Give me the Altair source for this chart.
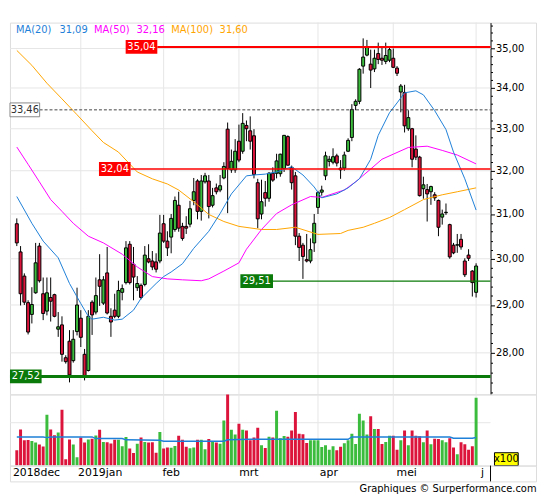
import altair as alt
import pandas as pd

# ---------------- data ----------------
opens = [30.78,30.15,29.62,29.05,28.80,29.26,30.28,29.24,28.87,29.16,
         29.22,28.49,28.58,27.90,28.24,27.84,28.44,28.72,27.97,27.64,
         29.06,28.85,29.54,29.04,29.69,28.76,28.89,28.76,29.27,29.48,
         30.32,29.88,29.37,29.42,29.44,30.00,29.95,29.93,29.95,30.78,
         30.39,30.48,30.65,31.20,30.72,30.72,30.77,31.31,31.76,31.06,
         31.74,31.76,31.20,31.60,31.55,31.83,32.99,32.02,32.02,32.70,
         32.46,33.08,32.95,32.83,31.72,31.00,31.49,31.36,31.94,31.94,
         31.93,32.05,32.81,32.08,31.88,30.50,30.30,29.98,29.95,30.35,
         31.15,31.50,31.88,32.22,32.20,32.35,32.06,32.06,32.46,32.79,
         33.57,33.67,34.55,34.83,34.60,34.48,34.87,34.75,34.67,34.70,
         34.75,34.50,33.90,33.89,33.00,33.00,32.51,32.32,31.58,31.56,
         31.51,31.44,31.31,30.93,31.03,30.76,30.30,30.30,30.43,29.95,
         30.08,29.73,29.27]
highs = [30.90,30.28,29.68,29.10,29.38,30.35,30.35,29.59,29.59,29.59,
         29.24,28.85,28.76,27.95,28.47,28.47,29.37,28.89,28.08,28.89,
         29.10,29.59,30.10,29.62,30.26,28.93,29.24,29.52,29.44,30.39,
         30.39,30.26,29.62,29.46,30.28,30.32,30.17,30.12,30.98,30.98,
         30.61,31.00,31.40,31.51,30.80,30.95,31.30,31.83,31.80,31.90,
         31.95,31.90,31.60,31.70,31.90,32.20,33.15,32.50,32.75,33.10,
         33.38,33.20,33.30,32.99,31.81,31.79,31.76,31.97,32.08,32.40,
         32.40,32.85,32.84,32.12,31.97,30.57,30.35,30.55,30.45,31.00,
         31.53,31.65,32.45,32.35,32.53,32.40,32.25,32.45,32.77,33.60,
         33.72,34.50,35.26,35.22,34.97,34.97,35.15,35.05,35.15,35.05,
         35.00,34.55,34.10,34.08,33.45,33.02,32.84,32.35,31.86,31.69,
         31.65,31.50,31.33,31.10,31.24,30.78,30.35,30.55,30.55,30.01,
         30.21,29.75,29.90]
lows = [30.28,28.99,29.00,28.38,28.61,29.24,29.48,28.68,28.78,28.65,
        28.74,28.33,27.82,27.78,27.40,27.80,28.36,28.12,27.44,27.62,
        28.37,28.80,28.98,29.00,28.80,28.33,28.72,28.72,29.10,29.44,
        29.44,29.10,29.30,29.12,29.40,29.90,29.75,29.70,29.90,30.35,
        30.06,30.12,30.60,30.60,30.40,30.55,30.70,31.20,30.88,30.85,
        31.70,30.90,31.15,31.45,31.50,31.80,31.02,31.95,31.95,32.20,
        32.40,32.70,32.50,31.82,30.68,30.88,31.17,31.28,31.74,31.82,
        31.86,31.97,32.12,31.56,30.30,29.95,29.56,29.92,29.90,30.15,
        31.00,31.42,31.78,32.10,32.15,32.10,31.81,32.00,32.44,32.70,
        33.45,33.60,34.36,34.80,34.00,34.40,34.60,34.58,34.60,34.65,
        34.50,34.30,33.40,32.91,32.95,32.08,32.25,31.40,31.35,30.83,
        31.21,31.30,30.50,30.76,30.98,30.00,30.10,30.13,30.20,29.60,
        29.95,29.18,29.16]
closes = [30.35,29.24,29.06,28.43,29.01,29.91,29.52,28.82,29.26,29.08,
          28.76,28.54,27.97,27.82,27.55,28.28,29.00,28.32,27.52,28.76,
          28.79,29.20,29.40,29.54,28.83,28.64,28.76,29.31,29.35,30.24,
          29.48,29.60,29.46,29.16,30.08,29.93,29.82,29.77,30.57,30.39,
          30.24,30.90,31.31,30.68,30.45,30.68,31.12,31.51,31.06,31.76,
          31.88,31.17,31.42,31.51,31.65,32.10,32.05,32.22,32.46,32.25,
          33.13,33.00,32.70,31.91,30.89,31.28,31.36,31.94,31.78,32.23,
          32.39,32.84,32.13,31.72,30.50,30.25,30.05,29.95,30.20,30.79,
          31.49,31.55,32.35,32.27,32.33,32.18,32.02,32.37,32.72,33.47,
          33.67,34.47,34.78,35.03,34.45,34.75,34.72,34.70,34.82,34.97,
          34.52,34.37,34.05,33.07,33.27,32.27,32.32,31.42,31.67,31.46,
          31.63,31.37,30.70,31.00,31.04,30.04,30.13,30.31,30.26,29.65,
          30.01,29.48,29.84]
volumes = [1780,4220,2940,2990,2880,2700,2460,2230,5930,4220,
           3530,3850,6500,730,3040,2460,960,3270,2690,3040,
           3140,3520,4190,2760,2720,2570,3020,3020,2250,3340,
           1980,1470,2560,3260,2760,2700,2720,1510,3920,1980,
           2100,2090,2290,3490,3020,2210,2010,2100,3020,3000,
           1900,3100,2800,2700,2550,5270,8370,4190,3610,4890,
           4190,4100,2940,3270,4420,2360,2050,3370,3270,6400,
           3200,3440,3370,4100,6240,3720,3650,2640,2940,2940,
           2940,2170,2360,1860,2250,1790,2200,2590,2940,3720,
           2520,6050,5270,3610,5740,4260,4260,2520,2750,3490,
           3490,1860,2940,4100,2360,4100,3490,3420,2720,4100,
           2500,3140,3100,2940,2720,3200,2100,1320,2720,2480,
           1860,2250,7910]

ma20_idx = [0,4,7,11,14,17,19,20,23,26,28,31,33,37,39,41,44,47,51,54,57,61,63,66,69,73,76,79,81,85,
            88,91,94,96,99,101,103,106,108,111,114,116,119,122]
ma20_val = [31.40,30.79,30.39,30.02,29.46,29.03,28.76,28.70,28.74,28.68,28.70,28.89,29.14,29.46,29.61,
            29.71,29.89,30.23,30.61,31.01,31.46,31.88,31.90,31.92,31.97,32.09,31.90,31.62,31.37,31.46,
            31.60,31.81,32.27,32.84,33.39,33.63,33.88,33.93,33.83,33.44,32.98,32.44,31.81,31.09]
ma50_idx = [0,3,6,9,12,15,19,23,28,32,36,40,44,49,51,55,59,61,65,69,73,78,81,87,90,94,97,100,104,109,
            113,117,122]
ma50_val = [32.56,32.15,31.74,31.33,31.06,30.79,30.50,30.35,30.10,29.82,29.61,29.56,29.54,29.52,29.56,
            29.73,29.91,30.21,30.65,31.01,31.21,31.40,31.38,31.55,31.74,32.04,32.27,32.39,32.55,32.58,
            32.48,32.37,32.16]
ma100_idx = [0,4,8,12,16,20,23,27,32,36,40,43,47,51,55,59,65,69,74,80,86,88,92,95,99,103,108,113,117,122]
ma100_val = [34.95,34.57,34.12,33.73,33.34,32.95,32.67,32.44,31.97,31.81,31.69,31.55,31.28,30.99,30.83,
             30.72,30.65,30.65,30.70,30.54,30.56,30.63,30.70,30.79,30.92,31.10,31.33,31.44,31.51,31.60]
vma_idx = [0,7,8,9,20,21,28,29,38,39,55,56,62,88,89,115,116,121,122]
vma_val = [3340,3340,3260,3340,3340,3150,3150,3000,2950,2850,2850,3000,3060,3060,3340,3340,3200,3200,3280]

month_idx = [0, 17, 39, 59, 80, 100, 122]
month_labels = ["2018dec", "2019jan", "feb", "mrt", "apr", "mei", "j"]
grid_idx = [17, 39, 59, 80, 100, 122]
price_ticks = [28, 29, 30, 31, 32, 33, 34, 35]
minor_ticks = [round(27.2 + 0.2 * k, 1) for k in range(43) if abs((27.2 + 0.2 * k) - round(27.2 + 0.2 * k)) > 0.05]
vol_ticks = [2500, 5000, 7500]

# ---------------- layout / style ----------------
GREEN = "#3cbc3c"
RED = "#dc143c"
FONT = "DejaVu Sans"
W, PH, VH, LH = 532, 376, 72, 16
PLOT_R = 486
GRID = "#e6e6e6"

n = len(closes)
df = pd.DataFrame({"i": list(range(n)), "o": opens, "h": highs, "l": lows, "c": closes, "v": volumes})
df["dir"] = ["up" if c >= o else "down" for o, c in zip(opens, closes)]
one = pd.DataFrame({"k": [0]})

xsc = alt.Scale(domain=[-0.5, 136.6], nice=False, zero=False)
X = alt.X("i:Q", scale=xsc, axis=None)
ysc = alt.Scale(type="log", domain=[27.16, 35.67], nice=False)
col = alt.Color("dir:N", scale=alt.Scale(domain=["up", "down"], range=[GREEN, RED]), legend=None)

major_axis = alt.Axis(orient="right", offset=-46, values=price_ticks,
                      labelExpr="replace(format(datum.value, '.2f'), '.', ',')",
                      tickSize=4, tickColor="#000", domainColor="#000", labelColor="#000",
                      labelFontSize=10, labelFont=FONT, labelPadding=1, grid=False, title=None)
minor_axis = alt.Axis(orient="right", offset=-46, values=minor_ticks, labels=False,
                      tickSize=2, tickColor="#000", domain=False, grid=False, title=None)

hgrid = alt.Chart(pd.DataFrame({"p": price_ticks})).mark_rule(color=GRID).encode(
    y=alt.Y("p:Q", scale=ysc, axis=None), x=alt.value(0), x2=alt.value(PLOT_R))
vgrid = alt.Chart(pd.DataFrame({"i": grid_idx})).mark_rule(color=GRID).encode(
    x=X, y=alt.value(0), y2=alt.value(PH))

wick = alt.Chart(df).mark_rule(color="#000", strokeWidth=1).encode(
    x=X, y=alt.Y("l:Q", scale=ysc, axis=minor_axis), y2="h:Q")
body = alt.Chart(df).mark_bar(size=3, stroke="#000", strokeWidth=1).encode(
    x=X, y=alt.Y("o:Q", scale=ysc, axis=major_axis), y2="c:Q", color=col)


def ma_line(idx, vals, color):
    d = pd.DataFrame({"i": idx, "m": vals})
    return alt.Chart(d).mark_line(color=color, strokeWidth=1).encode(
        x=X, y=alt.Y("m:Q", scale=ysc, axis=None))


ma20 = ma_line(ma20_idx, ma20_val, "#1e80d8")
ma50 = ma_line(ma50_idx, ma50_val, "#ff00ff")
ma100 = ma_line(ma100_idx, ma100_val, "#ffa500")


def level(val, txt, color, lw, bx0, bx1, fill, fg, line_x0, dash=None, border=None):
    d = pd.DataFrame({"p": [val]})
    b = alt.Chart(d)
    y = alt.Y("p:Q", scale=ysc, axis=None)
    kw = dict(color=color, strokeWidth=lw)
    if dash:
        kw["strokeDash"] = dash
    line = b.mark_rule(**kw).encode(y=y, x=alt.value(line_x0), x2=alt.value(PLOT_R))
    rkw = dict(fill=fill, yOffset=-7, y2Offset=7)
    if border:
        rkw["stroke"] = border
        rkw["strokeWidth"] = 1
    box = b.mark_rect(**rkw).encode(y=y, y2=alt.Y2("p:Q"), x=alt.value(bx0), x2=alt.value(bx1))
    t = b.mark_text(color=fg, fontSize=10, font=FONT, align="center", baseline="middle").encode(
        y=y, x=alt.value((bx0 + bx1) / 2), text=alt.value(txt))
    return [line, box, t]


levels = []
levels += level(35.04, "35,04", "#ff0000", 2, 117, 149, "#ff0000", "#ffffff", 149)
levels += level(33.46, "33,46", "#444444", 1, 0, 30, "#ffffff", "#333333", 30, dash=[3, 2], border="#888888")
levels += level(32.04, "32,04", "#ff0000", 1.5, 90, 122, "#ff0000", "#ffffff", 122)
levels += level(29.51, "29,51", "#0a7a0a", 1.2, 233, 266, "#0a7a0a", "#ffffff", 266)
levels += level(27.52, "27,52", "#0a7a0a", 3, 0, 32, "#0a7a0a", "#ffffff", 0)

legend_items = [("MA(20)", 6, "#1e80d8"), ("31,09", 50, "#1e80d8"),
                ("MA(50)", 85, "#ff00ff"), ("32,16", 128, "#ff00ff"),
                ("MA(100)", 163, "#ffa500"), ("31,60", 212, "#ffa500")]
legend = [alt.Chart(one).mark_text(color=c, fontSize=10, font=FONT, align="left", baseline="middle").encode(
    x=alt.value(x), y=alt.value(8), text=alt.value(t)) for t, x, c in legend_items]

price = alt.layer(hgrid, vgrid, wick, body, ma100, ma50, ma20, *levels, *legend).resolve_axis(
    y="independent").properties(width=W, height=PH)

# ---------------- volume panel ----------------
vsc = alt.Scale(domain=[0, 8300], nice=False, zero=True)
vaxis = alt.Axis(orient="right", offset=-46, values=vol_ticks,
                 labelExpr="datum.value == 5000 ? '5000' : ''",
                 tickSize=4, tickColor="#000", domainColor="#000", labelColor="#000",
                 labelFontSize=10, labelFont=FONT, labelPadding=1, grid=False, title=None)
vgrid2 = alt.Chart(pd.DataFrame({"i": grid_idx})).mark_rule(color=GRID).encode(
    x=X, y=alt.value(0), y2=alt.value(VH))
hgrid2 = alt.Chart(pd.DataFrame({"v": [5000]})).mark_rule(color=GRID).encode(
    y=alt.Y("v:Q", scale=vsc, axis=None), x=alt.value(0), x2=alt.value(PLOT_R))
vbars = alt.Chart(df).mark_bar(size=3, clip=True).encode(
    x=X, y=alt.Y("v:Q", scale=vsc, axis=vaxis), color=col)
vma = alt.Chart(pd.DataFrame({"i": vma_idx, "m": vma_val})).mark_line(color="#1e80d8", strokeWidth=1.5).encode(
    x=X, y=alt.Y("m:Q", scale=vsc, axis=None))
x100_box = alt.Chart(one).mark_rect(fill="#ffff00", stroke="#000", strokeWidth=1).encode(
    x=alt.value(490), x2=alt.value(514), y=alt.value(59), y2=alt.value(72))
x100_txt = alt.Chart(one).mark_text(fontSize=10, font=FONT, color="#000", align="center", baseline="middle").encode(
    x=alt.value(502), y=alt.value(65.5), text=alt.value("x100"))
volume = alt.layer(vgrid2, hgrid2, vbars, vma, x100_box, x100_txt).properties(width=W, height=VH)

# ---------------- month label row ----------------
mdf = pd.DataFrame({"i": month_idx, "lab": month_labels})
mlab = alt.Chart(mdf).mark_text(fontSize=11, font=FONT, color="#000", align="left", baseline="middle", dx=1).encode(
    x=X, y=alt.value(8), text="lab:N")
mline = alt.Chart(one).mark_rule(color="#000").encode(x=alt.value(PLOT_R), y=alt.value(0), y2=alt.value(LH))
labels = alt.layer(mlab, mline).properties(width=W, height=LH)

chart = alt.vconcat(price, volume, labels, spacing=0, bounds="flush").properties(
    title=alt.TitleParams("Graphiques © Surperformance.com", orient="bottom", anchor="end",
                          fontSize=10, fontWeight="normal", font=FONT, color="#000", offset=2),
    padding={"left": 0, "top": 11, "right": 0, "bottom": 0},
).configure_view(stroke="#000", strokeWidth=1).configure(font=FONT, background="#ffffff")

chart.save("out.html", embed_options={"renderer": "svg", "actions": False})
